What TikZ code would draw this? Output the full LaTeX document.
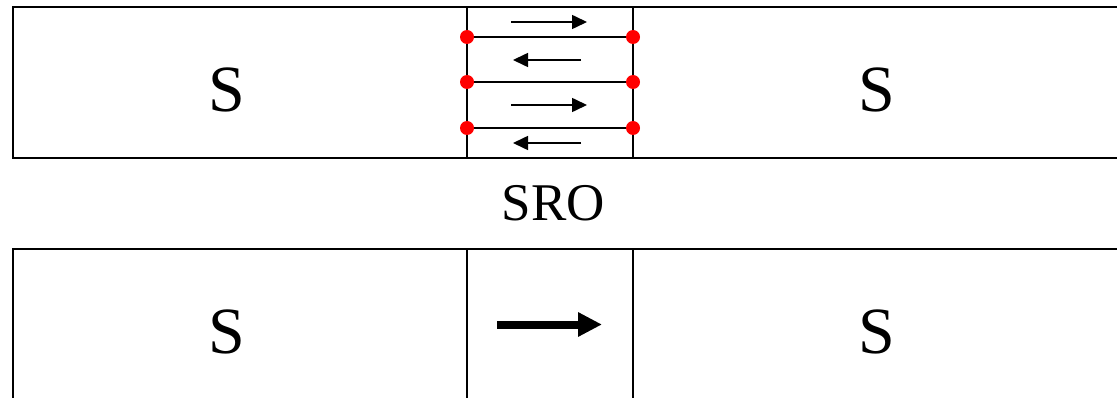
\documentclass[tikz,border=0pt]{standalone}
\usepackage{fontspec}
\setmainfont{Liberation Serif}
\usetikzlibrary{arrows.meta}
\begin{document}
\begin{tikzpicture}[x=1pt,y=-1pt,
  boxline/.style={line width=2pt},
  thinline/.style={line width=1.6pt},
  lbl/.style={font=\fontsize{66}{66}\selectfont, inner sep=0pt},
  dot/.style={circle, fill=red, inner sep=0pt, minimum size=14pt},
  smallarrow/.style={line width=1.6pt, -{Triangle[length=15pt,width=14pt]}},
  bigarrow/.style={line width=8pt, -{Triangle[length=24pt,width=23pt]}}]
\useasboundingbox (0,0) rectangle (1117,398);
\begin{scope}
\clip (0,0) rectangle (1117,398);
% top strip
\draw[boxline] (1130,7) -- (13,7) -- (13,158) -- (1130,158);
\draw[boxline] (467,7) rectangle (633,158);
\coordinate (l1) at (467,37); \coordinate (r1) at (633,37);
\coordinate (l2) at (467,82); \coordinate (r2) at (633,82);
\coordinate (l3) at (467,128); \coordinate (r3) at (633,128);
\draw[thinline] (l1) -- (r1);
\draw[thinline] (l2) -- (r2);
\draw[thinline] (l3) -- (r3);
\node[dot] (d1) at (l1) {}; \node[dot] (d2) at (r1) {};
\node[dot] (d3) at (l2) {}; \node[dot] (d4) at (r2) {};
\node[dot] (d5) at (l3) {}; \node[dot] (d6) at (r3) {};
\coordinate (a1s) at (511,22); \coordinate (a1e) at (587,22);
\coordinate (a2s) at (581,60); \coordinate (a2e) at (513,60);
\coordinate (a3s) at (511,105); \coordinate (a3e) at (587,105);
\coordinate (a4s) at (581,143); \coordinate (a4e) at (513,143);
\draw[smallarrow] (a1s) -- (a1e);
\draw[smallarrow] (a2s) -- (a2e);
\draw[smallarrow] (a3s) -- (a3e);
\draw[smallarrow] (a4s) -- (a4e);
\node[lbl] (s1) at (226.5,89.5) {S};
\node[lbl] (s2) at (876.5,89.5) {S};
% middle label
\node[font=\fontsize{53}{53}\selectfont, inner sep=0pt] (sro) at (553.5,203) {SRO};
% bottom strip
\draw[boxline] (13,410) -- (13,249) -- (1130,249);
\draw[thinline] (467,249) -- (467,410);
\draw[thinline] (633,249) -- (633,410);
\coordinate (bs) at (497,324.5); \coordinate (be) at (602,324.5);
\draw[bigarrow] (bs) -- (be);
\node[lbl] (s3) at (226.5,331.5) {S};
\node[lbl] (s4) at (876.5,331.5) {S};
\end{scope}
\end{tikzpicture}
\end{document}
